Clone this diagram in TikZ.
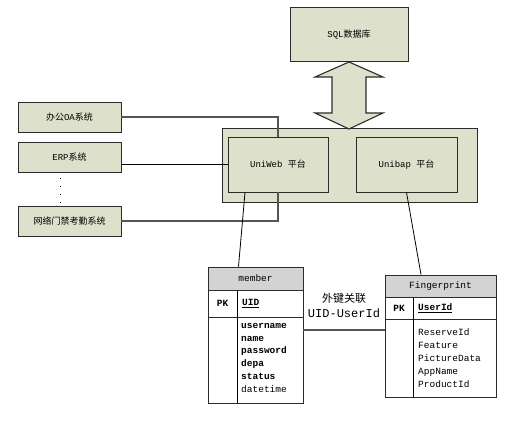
\documentclass[tikz,border=0pt]{standalone}
\usepackage{fontspec}
\setmainfont{Liberation Mono}
\newfontfamily\cjk{Noto Sans CJK SC}
\usepackage{xcolor}
\usepackage{tikz}
\usetikzlibrary{calc,positioning}
\definecolor{platFill}{HTML}{DDE0CB}
\definecolor{headFill}{HTML}{D3D3D3}
\definecolor{boxLine}{HTML}{2B2B2B}
\definecolor{wireGray}{HTML}{555555}

\begin{document}
\begin{tikzpicture}[
  x=1pt, y=-1pt,
  font=\fontsize{9}{10}\selectfont,
  sysbox/.style={
    draw=boxLine,
    line width=0.9pt,
    fill=platFill,
    inner sep=0pt,
    align=center
  },
  legacy/.style={sysbox, minimum width=103pt, minimum height=30pt},
  tablecell/.style={
    draw=boxLine,
    line width=0.9pt,
    fill=white,
    inner sep=0pt,
    minimum width=#1
  },
  tablehead/.style={tablecell=#1, fill=headFill, font=\fontsize{9.5}{11}\selectfont},
  fieldlist/.style={
    anchor=north west,
    inner sep=0pt,
    align=left,
    font=\fontsize{9.5}{#1}\selectfont
  },
  wire/.style={draw=wireGray, line width=1.2pt},
  link/.style={draw=black, line width=0.8pt}
]
\useasboundingbox (0,0) rectangle (506,425);

% platform part
\node[sysbox, minimum width=118pt, minimum height=54pt] (sql) at (349,34.5) {SQL{\cjk 数据库}};
\node[sysbox, minimum width=255pt, minimum height=74pt] (platform) at (349.5,165) {};
\node[sysbox, minimum width=100pt, minimum height=55pt] (uniweb) at (278,164.5) {UniWeb {\cjk 平台}};
\node[sysbox, minimum width=101pt, minimum height=55pt] (unibap) at (406.5,164.5) {Unibap {\cjk 平台}};

\draw[sysbox, line width=1.1pt] (349,62) -- (383,77) -- (366,77) -- (366,113) -- (383,113) -- (349,129)
  -- (315,113) -- (332,113) -- (332,77) -- (315,77) -- cycle;

\node[legacy] (oa) at (69.5,117) {{\cjk 办公}OA{\cjk 系统}};
\node[legacy] (erp) at (69.5,157) {ERP{\cjk 系统}};
\node[legacy] (door) at (69.5,221) {\cjk 网络门禁考勤系统};

\draw[line width=1.2pt, dash pattern=on 1pt off 7pt]
  ([xshift=-9pt,yshift=-6pt]erp.south) -- ([xshift=-9pt]door.north);

\draw[wire] (oa.east) -| (uniweb.north);
\draw[link] (uniweb.west) -- (uniweb.west -| erp.east);
\draw[wire] (door.east) -| (uniweb.south);

% tables
\node[tablehead=95pt, minimum height=23pt] (memberHead) at (255.5,278.5) {member};
\node[tablecell=95pt, minimum height=27pt, below=-0.9pt of memberHead] (memberKey) {};
\node[tablecell=95pt, minimum height=86pt, below=-0.9pt of memberKey] (memberBody) {};
\draw[link] ([xshift=-18.5pt]memberKey.north) -- ([xshift=-18.5pt]memberBody.south);
\node[font=\bfseries\fontsize{9.5}{11}\selectfont] (memberPK) at (222.5,303.5) {PK};
\node[anchor=west, inner sep=0pt, font=\bfseries\fontsize{9.5}{11}\selectfont] (memberUID) at (242,303.5) {\underline{UID}};
\node[fieldlist=12.8pt] (memberFields) at (241,323) {\textbf{username}\\\textbf{name}\\\textbf{password}\\\textbf{depa}\\\textbf{status}\\datetime};

\node[tablehead=111pt, minimum height=22pt] (fpHead) at (440.5,286) {Fingerprint};
\node[tablecell=111pt, minimum height=22pt, below=-0.9pt of fpHead] (fpKey) {};
\node[tablecell=111pt, minimum height=78pt, below=-0.9pt of fpKey] (fpBody) {};
\draw[link] ([xshift=-27.5pt]fpKey.north) -- ([xshift=-27.5pt]fpBody.south);
\node[font=\bfseries\fontsize{9.5}{11}\selectfont] (fpPK) at (399,308) {PK};
\node[anchor=west, inner sep=0pt, font=\bfseries\fontsize{9.5}{11}\selectfont] (fpUID) at (418,308) {\underline{UserId}};
\node[fieldlist=13pt] (fpFields) at (418,328.5) {ReserveId\\Feature\\PictureData\\AppName\\ProductId};

\draw[link] (uniweb.south) ++(-33,0) coordinate (webFoot) -- ([xshift=-17pt]memberHead.north);
\draw[link] (unibap.south) -- ([xshift=-19.5pt]fpHead.north);
\draw[wire] ([yshift=30pt]memberBody.east) coordinate (fkStart) -- (fkStart -| fpBody.west);
\node[align=center, inner sep=0pt, font=\fontsize{12}{15}\selectfont] (fkLabel) at (344,305) {{\cjk\fontsize{11}{15}\selectfont 外键关联}\\UID-UserId};

\end{tikzpicture}
\end{document}
